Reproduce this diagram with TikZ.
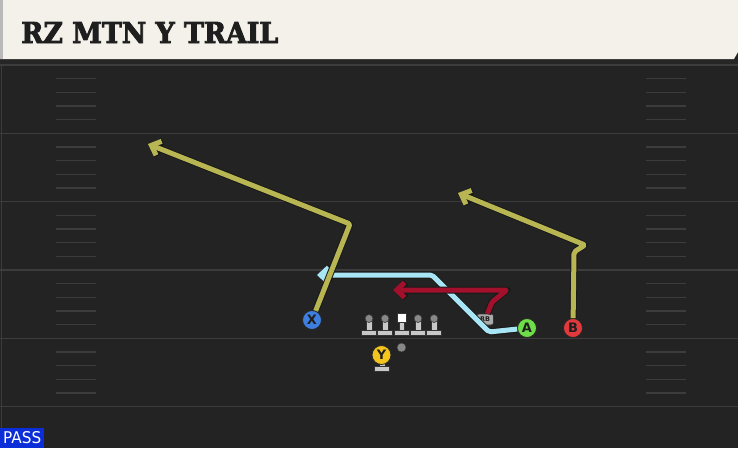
\documentclass[tikz,border=0pt]{standalone}
\usepackage{graphicx}
\usepackage{fontspec}
\setmainfont{DejaVu Sans}
\newfontfamily\titlefont[BoldFont={DejaVu Serif Bold}, BoldFeatures={FakeBold=3}]{DejaVu Serif}
\usepackage{tikz}
\usetikzlibrary{arrows.meta, calc}
\definecolor{field}{RGB}{35, 35, 35}
\definecolor{yardline}{RGB}{60, 60, 60}
\definecolor{banner}{RGB}{244, 241, 234}
\definecolor{ink}{RGB}{30, 30, 30}
\definecolor{olive}{RGB}{184, 182, 82}
\definecolor{ice}{RGB}{168, 230, 246}
\definecolor{crimson}{RGB}{162, 16, 44}
\definecolor{passblue}{RGB}{12, 46, 216}
\definecolor{xblue}{RGB}{62, 126, 222}
\definecolor{agreen}{RGB}{110, 222, 72}
\definecolor{bred}{RGB}{226, 58, 60}
\definecolor{ygold}{RGB}{244, 196, 30}
\definecolor{lgray}{RGB}{200, 200, 200}
\definecolor{hgray}{RGB}{136, 136, 136}

\begin{document}
\begin{tikzpicture}[x=1pt, y=-1pt,
  route/.style={draw=#1, line width=5pt, line join=round, rounded corners=2pt,
    -{Straight Barb[length=8pt, width=15pt, line join=miter]},
    preaction={draw=black!90, line width=7pt}},
  player/.style={circle, draw=black!85, line width=0.8pt, fill=#1, text=ink,
    minimum size=19pt, inner sep=0pt, font=\bfseries\fontsize{13}{13}\selectfont}]
  \useasboundingbox (0, 0) rectangle (738, 448);

  % field
  \fill[field] (0, 0) rectangle (738, 448);
  \fill[black!85] (0, 59) rectangle (738, 64);
  \draw[yardline, line width=1pt] (1.5, 64) -- (1.5, 448);
  \foreach \y in {65, 133.3, 201.6, 270, 338.3, 406.6}
    \draw[yardline, line width=1.5pt] (0, \y) -- (738, \y);
  \foreach \y in {65, 133.3, 201.6, 270, 338.3}
    \foreach \k in {1, ..., 4} {
      \draw[yardline, line width=1.3pt] (56, \y + 13.66*\k) -- (96, \y + 13.66*\k);
      \draw[yardline, line width=1.3pt] (646, \y + 13.66*\k) -- (686, \y + 13.66*\k);
    }

  % banner
  \fill[banner] (0, 0) -- (738, 0) -- (738, 52) -- (734, 59) -- (0, 59) -- cycle;
  \fill[gray!55] (0, 0) rectangle (3, 59);
  \node[anchor=base west, inner sep=0pt, text=ink] (title) at (21, 43)
    {\resizebox{257pt}{21pt}{\titlefont\bfseries RZ MTN Y TRAIL}};

  \node[fill=passblue, text=white, anchor=south west, inner xsep=3pt, inner ysep=0pt,
    minimum height=20pt] (pass) at (0, 448) {\resizebox{38pt}{12pt}{PASS}};

  % line
  \foreach \x in {369, 385, 418, 434} {
    \fill[lgray, draw=black!80, line width=0.6pt] (\x-3, 318) rectangle (\x+3, 331);
    \fill[lgray, draw=black!80, line width=0.6pt] (\x-7.5, 330.5) rectangle (\x+7.5, 335.5);
    \fill[hgray, draw=black!80, line width=0.6pt] (\x, 318.5) circle (4);
  }
  \fill[lgray, draw=black!80, line width=0.6pt] (399, 322) rectangle (404, 331);
  \fill[lgray, draw=black!80, line width=0.6pt] (394, 330.5) rectangle (409, 335.5);
  \fill[white, draw=black!80, line width=0.6pt] (397, 313) rectangle (406, 322);
  \node[circle, fill=hgray, draw=black!80, minimum size=9pt, inner sep=0pt] (qb) at (401.5, 347.5) {};
  \fill[lgray] (379.5, 363) rectangle (384.5, 367);
  \fill[lgray, draw=black!80, line width=0.6pt] (374.5, 366.5) rectangle (389.5, 371);

  \node[player=xblue] (X) at (312, 320) {X};
  \node[player=agreen] (A) at (527, 328) {A};
  \node[player=bred] (B) at (573, 328) {B};
  \node[player=ygold] (Y) at (381.5, 355) {Y};
  \node[fill=lgray!85!black, draw=black!80, line width=0.6pt, rounded corners=2.5pt,
    minimum width=17pt, minimum height=11pt, inner sep=0pt, text=ink,
    font=\bfseries\fontsize{6.5}{6.5}\selectfont] (RB) at (485, 319.5) {RB};

  % routes
  \coordinate (acut) at (489, 332);
  \coordinate (abreak) at (432, 275);
  \coordinate (aend) at (317, 275);
  \coordinate (rbup) at (492, 302);
  \coordinate (rbflat) at (507, 290);
  \coordinate (rbend) at (393, 290);
  \coordinate (xbreak) at (350, 224);
  \coordinate (xend) at (148, 144);
  \coordinate (bstem) at (574, 252);
  \coordinate (bjog) at (585, 245);
  \coordinate (bend) at (458, 193);

  \draw[route=ice] (A) -- (acut) -- (abreak) -- (aend);
  \draw[route=crimson] (RB) -- (rbup) -- (rbflat) -- (rbend);
  \draw[route=olive] (X) -- (xbreak) -- (xend);
  \draw[route=olive] (B) -- (bstem) -- (bjog) -- (bend);
\end{tikzpicture}
\end{document}
